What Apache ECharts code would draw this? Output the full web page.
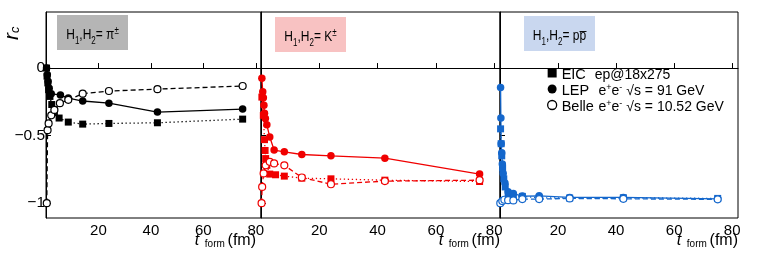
<!DOCTYPE html>
<html>
<head>
<meta charset="utf-8">
<script src="https://cdn.jsdelivr.net/npm/echarts@6/dist/echarts.min.js"></script>
<style>
html,body{margin:0;padding:0;background:#fff;}
#chart{width:764px;height:265px;}
</style>
</head>
<body>
<div id="chart"></div>
<script>
// ---------- tick labels ----------
const tTicks = [20, 40, 60, 80];
const rTicks = [0, -0.5, -1];

// ---------- H1,H2 = pi+- (black) ----------
const tEIC_pi   = [0.2, 0.4, 0.7, 1.0, 1.5, 2.2, 3.2, 5, 8.5, 14, 24, 42.5, 75];
const rEIC_pi   = [0, -0.06, -0.11, -0.16, -0.21, -0.27, -0.33, -0.37, -0.40, -0.415, -0.41, -0.405, -0.378];
const tLEP_pi   = [0.2, 0.5, 0.8, 1.2, 2, 5.5, 8.5, 14, 24, 42.5, 75];
const rLEP_pi   = [0, -0.05, -0.10, -0.15, -0.19, -0.20, -0.222, -0.244, -0.26, -0.326, -0.304];
const tBelle_pi = [0.3, 0.6, 1.0, 2.0, 3.2, 5.3, 8.5, 14, 24, 42.5, 75];
const rBelle_pi = [-1.0, -0.46, -0.41, -0.35, -0.31, -0.26, -0.235, -0.19, -0.17, -0.156, -0.133];

// ---------- H1,H2 = K+- (red) ----------
const tEIC_K   = [0.3, 0.8, 1.2, 1.4, 1.6, 2.0, 3.0, 5, 8, 14, 24, 42.5, 75];
const rEIC_K   = [-0.215, -0.35, -0.53, -0.61, -0.67, -0.72, -0.785, -0.79, -0.80, -0.815, -0.82, -0.83, -0.84];
const tLEP_K   = [0.3, 0.6, 0.8, 1.0, 1.2, 1.5, 2.0, 3.0, 4.5, 8, 14, 24, 42.5, 75];
const rLEP_K   = [-0.075, -0.175, -0.22, -0.275, -0.335, -0.373, -0.42, -0.51, -0.607, -0.62, -0.64, -0.65, -0.667, -0.785];
const tBelle_K = [0.2, 0.4, 0.9, 1.6, 3, 4.5, 8, 14, 24, 42.5, 75];
const rBelle_K = [-1.0, -0.88, -0.78, -0.72, -0.694, -0.706, -0.72, -0.81, -0.86, -0.837, -0.83];

// ---------- H1,H2 = p pbar (blue) ----------
const tEIC_p   = [0.2, 0.4, 0.6, 0.9, 1.3, 1.8, 2.8, 4.6, 7.7, 13.5, 24, 42.5, 75];
const rEIC_p   = [-0.45, -0.56, -0.65, -0.74, -0.82, -0.88, -0.93, -0.945, -0.95, -0.96, -0.962, -0.96, -0.965];
const tLEP_p   = [0.2, 0.3, 0.4, 0.6, 0.8, 1.1, 1.7, 2.8, 4.6, 7.7, 13.5, 24, 42.5, 75];
const rLEP_p   = [-0.143, -0.37, -0.56, -0.627, -0.711, -0.78, -0.85, -0.916, -0.929, -0.948, -0.946, -0.958, -0.958, -0.968];
const tBelle_p = [0.1, 0.8, 1.5, 2.8, 4.6, 7.7, 13.5, 24, 42.5, 75];
const rBelle_p = [-1.0, -0.985, -0.975, -0.978, -0.98, -0.97, -0.97, -0.965, -0.968, -0.972];

const panels = [
  {color: '#000000', eic: [tEIC_pi, rEIC_pi], lep: [tLEP_pi, rLEP_pi], belle: [tBelle_pi, rBelle_pi]},
  {color: '#f00000', eic: [tEIC_K, rEIC_K], lep: [tLEP_K, rLEP_K], belle: [tBelle_K, rBelle_K]},
  {color: '#1467cc', eic: [tEIC_p, rEIC_p], lep: [tLEP_p, rLEP_p], belle: [tBelle_p, rBelle_p]}
];

const zip = (t, r) => t.map((v, i) => [v, r[i]]);
const FONT = '"Liberation Sans", Arial, Helvetica, sans-serif';

const grids = [
  {left: 46, top: 12, width: 215, height: 206},
  {left: 261, top: 12, width: 239, height: 206},
  {left: 500, top: 12, width: 238, height: 206}
].map(g => Object.assign(g, {show: true, borderColor: '#000', borderWidth: 1, backgroundColor: 'rgba(0,0,0,0)'}));

const xAxes = grids.map((g, i) => ({
  gridIndex: i, type: 'value', min: 0, max: 82,
  axisLine: {show: true, lineStyle: {color: '#000', width: 1}},
  axisTick: {show: true, inside: true, length: 5, customValues: tTicks, lineStyle: {color: '#000'}},
  axisLabel: {show: true, customValues: tTicks, color: '#000', fontFamily: FONT, fontSize: 15, margin: 5},
  splitLine: {show: false}
}));

const yAxes = grids.map((g, i) => ({
  gridIndex: i, type: 'value', min: -1.11, max: 0.415,
  axisLine: {show: true, lineStyle: {color: '#000', width: 1}},
  axisTick: {show: true, inside: true, length: 5, customValues: rTicks, lineStyle: {color: '#000'}},
  axisLabel: {show: i === 0, customValues: rTicks, color: '#000', fontFamily: FONT, fontSize: 15.5, margin: 1,
    formatter: v => v === 0 ? '0' : '\u2212' + Math.abs(v)},
  splitLine: {show: false}
}));

const series = [];
panels.forEach((p, i) => {
  series.push({
    type: 'line', name: 'EIC', xAxisIndex: i, yAxisIndex: i, data: zip(p.eic[0], p.eic[1]),
    symbol: 'rect', symbolSize: 7, color: p.color,
    itemStyle: {color: p.color}, lineStyle: {color: p.color, width: 1.3, type: [1.3, 2.7]}, z: 3
  });
  series.push({
    type: 'line', name: 'LEP', xAxisIndex: i, yAxisIndex: i, data: zip(p.lep[0], p.lep[1]),
    symbol: 'circle', symbolSize: 7.5, color: p.color,
    itemStyle: {color: p.color}, lineStyle: {color: p.color, width: 1.3, type: 'solid'}, z: 4
  });
  series.push({
    type: 'line', name: 'Belle', xAxisIndex: i, yAxisIndex: i, data: zip(p.belle[0], p.belle[1]),
    symbol: 'circle', symbolSize: 7, color: p.color,
    itemStyle: {color: '#ffffff', borderColor: p.color, borderWidth: 1.2, opacity: 1},
    lineStyle: {color: p.color, width: 1.3, type: [5, 3]}, z: 5
  });
});

const richH = {
  n: {fontFamily: FONT, fontSize: 15, color: '#111', verticalAlign: 'bottom', lineHeight: 18},
  s: {fontFamily: FONT, fontSize: 10, color: '#111', verticalAlign: 'bottom', lineHeight: 14, padding: [0, 0, -4, 0]},
  p: {fontFamily: FONT, fontSize: 10, color: '#111', verticalAlign: 'bottom', lineHeight: 14, padding: [0, 0, 6, 0]}
};
function boxGroup(x, y, w, h, fill, text) {
  return {
    type: 'group', left: x, top: y,
    children: [
      {type: 'rect', shape: {x: 0, y: 0, width: w, height: h}, style: {fill: fill}},
      {type: 'text', x: w / 2, y: h / 2 + 1, scaleX: 0.8,
        style: {text: text, align: 'center', verticalAlign: 'middle', rich: richH}}
    ]
  };
}

const richT = {
  t: {fontFamily: FONT, fontSize: 16, fontStyle: 'italic', color: '#000'},
  f: {fontFamily: FONT, fontSize: 10, color: '#000', padding: [0, 0, -6, 0]},
  u: {fontFamily: FONT, fontSize: 16, color: '#000'}
};
function tLabel(xRight) {
  return {type: 'text', x: xRight, y: 249, style: {text: '{t|t}{f|  form }{u|(fm)}', align: 'right', verticalAlign: 'bottom', rich: richT}};
}

const option = {
  animation: false,
  backgroundColor: '#fff',
  grid: grids,
  xAxis: xAxes,
  yAxis: yAxes,
  series: series,
  legend: {
    orient: 'vertical', left: 542, top: 62, itemWidth: 9, itemHeight: 9, itemGap: 1,
    data: [
      {name: 'EIC', icon: 'rect', itemStyle: {color: '#000'}},
      {name: 'LEP', icon: 'circle', itemStyle: {color: '#000'}},
      {name: 'Belle', icon: 'circle', itemStyle: {color: '#fff', borderColor: '#000', borderWidth: 1.3}}
    ],
    formatter: name => {
      if (name === 'EIC') return '{a|EIC}{b|ep@18x275}';
      if (name === 'LEP') return '{a|LEP}{b| e}{sp|+}{b|e}{sp|-}{b| \u221As = 91 GeV}';
      return '{a|Belle}{b| e}{sp|+}{b|e}{sp|-}{b| \u221As = 10.52 GeV}';
    },
    textStyle: {
      fontFamily: FONT, fontSize: 14, color: '#000',
      rich: {
        a: {fontFamily: FONT, fontSize: 14.5, color: '#000', width: 33, verticalAlign: 'bottom', lineHeight: 18},
        b: {fontFamily: FONT, fontSize: 14, color: '#000', verticalAlign: 'bottom', lineHeight: 18},
        sp: {fontFamily: FONT, fontSize: 9, color: '#000', verticalAlign: 'bottom', lineHeight: 14, padding: [0, 0, 6, 0]}
      }
    },
    selectedMode: false
  },
  graphic: [
    boxGroup(57, 15, 71, 35, '#b5b5b5', '{n|H}{s|1}{n|,H}{s|2}{n|= \u03C0}{p|\u00B1}'),
    boxGroup(275, 17, 71, 35, '#f8c2c2', '{n|H}{s|1}{n|,H}{s|2}{n|= K}{p|\u00B1}'),
    boxGroup(524, 16, 71, 35, '#c9d7ef', '{n|H}{s|1}{n|,H}{s|2}{n|= pp\u0305}'),
    tLabel(256), tLabel(500), tLabel(738),
    {type: 'text', x: 12, y: 40, rotation: Math.PI / 2,
      style: {text: '{r|r}{c|c}', align: 'left', verticalAlign: 'middle',
        rich: {r: {fontFamily: FONT, fontSize: 21, fontStyle: 'italic', color: '#000'},
               c: {fontFamily: FONT, fontSize: 13, fontStyle: 'italic', color: '#000', padding: [0, 0, -6, 0]}}}}
  ]
};

const chart = echarts.init(document.getElementById('chart'), null, {renderer: 'canvas'});
chart.setOption(option);
</script>
</body>
</html>
